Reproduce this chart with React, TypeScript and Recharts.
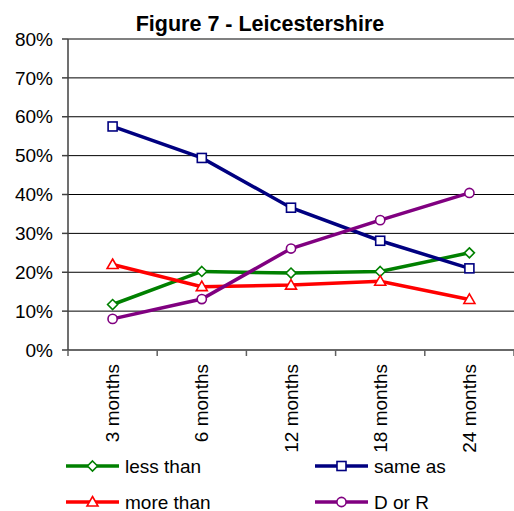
import React from "react";
import { LineChart, Line, XAxis, YAxis, CartesianGrid, Legend, ReferenceLine } from "recharts";

const categories = ["3 months", "6 months", "12 months", "18 months", "24 months"];
const lessThan = [0.117, 0.202, 0.198, 0.202, 0.25];
const sameAs = [0.575, 0.494, 0.366, 0.281, 0.21];
const moreThan = [0.22, 0.163, 0.167, 0.177, 0.13];
const dOrR = [0.08, 0.131, 0.261, 0.334, 0.404];
const yTicks = [0, 0.1, 0.2, 0.3, 0.4, 0.5, 0.6, 0.7, 0.8];

const seriesInfo = [
  { key: "lessThan", name: "less than", color: "#008000", shape: "diamond" },
  { key: "sameAs", name: "same as", color: "#000080", shape: "square" },
  { key: "moreThan", name: "more than", color: "#FF0000", shape: "triangle" },
  { key: "dOrR", name: "D or R", color: "#800080", shape: "circle" },
];

const data = categories.map((c, i) => ({
  cat: c,
  lessThan: lessThan[i],
  sameAs: sameAs[i],
  moreThan: moreThan[i],
  dOrR: dOrR[i],
}));

const W = 514;
const H = 511;
const LEFT = 68;
const PLOT_W = W - LEFT;
const HALF_BAND = PLOT_W / categories.length / 2;
const FONT = "'Liberation Sans', Arial, sans-serif";

function Marker({ cx, cy, color, shape }: any) {
  if (cx == null || cy == null) return null;
  const common = { fill: "#fff", stroke: color, strokeWidth: 1.6 };
  if (shape === "diamond")
    return <polygon points={`${cx},${cy - 5} ${cx + 5},${cy} ${cx},${cy + 5} ${cx - 5},${cy}`} {...common} />;
  if (shape === "square") return <rect x={cx - 4.5} y={cy - 4.5} width={9} height={9} {...common} />;
  if (shape === "triangle")
    return <polygon points={`${cx},${cy - 5.5} ${cx + 5.5},${cy + 4} ${cx - 5.5},${cy + 4}`} {...common} />;
  return <circle cx={cx} cy={cy} r={4.6} {...common} />;
}

const XTick = (props: any) => {
  const { x, y, payload, index, visibleTicksCount, width } = props;
  const n = visibleTicksCount || categories.length;
  const bw = (width || PLOT_W) / n;
  const tickStroke = "#606060";
  return (
    <g>
      <line x1={x - bw / 2} x2={x - bw / 2} y1={y} y2={y + 6} stroke={tickStroke} strokeWidth={1.5} />
      {index === n - 1 && (
        <line x1={x + bw / 2} x2={x + bw / 2} y1={y} y2={y + 6} stroke={tickStroke} strokeWidth={1.5} />
      )}
      <text
        x={x}
        y={y + 14}
        transform={`rotate(-90, ${x}, ${y + 14})`}
        textAnchor="end"
        dominantBaseline="central"
        fontSize={19}
        fontFamily={FONT}
        fill="#000"
      >
        {payload.value}
      </text>
    </g>
  );
};

const LegendContent = () => {
  const cols = [66, 315];
  const rows = [16, 52];
  return (
    <svg width={W} height={61} style={{ display: "block" }}>
      {seriesInfo.map((s, i) => {
        const lx = cols[i % 2];
        const ly = rows[Math.floor(i / 2)];
        return (
          <g key={s.key}>
            <line x1={lx} x2={lx + 53} y1={ly} y2={ly} stroke={s.color} strokeWidth={3.5} />
            <Marker cx={lx + 26.5} cy={ly} color={s.color} shape={s.shape} />
            <text x={lx + 59} y={ly} dominantBaseline="central" fontSize={19} fontFamily={FONT} fill="#000">
              {s.name}
            </text>
          </g>
        );
      })}
    </svg>
  );
};

export default function App() {
  return (
    <div style={{ position: "absolute", left: 0, top: 0, width: W, height: H, background: "#fff" }}>
      <div
        style={{
          position: "absolute",
          left: 0,
          top: 12,
          width: 520,
          textAlign: "center",
          fontFamily: FONT,
          fontWeight: "bold",
          fontSize: 21.5,
          lineHeight: "24px",
          color: "#000",
          zIndex: 2,
        }}
      >
        Figure 7 - Leicestershire
      </div>
      <LineChart width={W} height={H} data={data} margin={{ top: 39, right: 0, bottom: 0, left: 0 }}>
        <CartesianGrid vertical={false} stroke="#000" strokeWidth={1} strokeOpacity={1} />
        <ReferenceLine y={0.8} stroke="#808080" strokeWidth={1.5} />
        <XAxis
          dataKey="cat"
          height={161}
          padding={{ left: HALF_BAND, right: HALF_BAND }}
          axisLine={{ stroke: "#606060", strokeWidth: 1.5 }}
          tickLine={false}
          tickSize={0}
          tickMargin={0}
          interval={0}
          tick={<XTick />}
        />
        <YAxis
          width={LEFT}
          domain={[0, 0.8]}
          ticks={yTicks}
          interval={0}
          tickFormatter={(v: number) => `${Math.round(v * 100)}%`}
          axisLine={{ stroke: "#404040", strokeWidth: 1.5 }}
          tickLine={{ stroke: "#404040", strokeWidth: 1.5 }}
          tickSize={6}
          tickMargin={9}
          tick={{ fontSize: 19, fill: "#000", fontFamily: FONT }}
        />
        <Legend
          layout="vertical"
          align="center"
          verticalAlign="middle"
          wrapperStyle={{ position: "absolute", left: 0, top: 450, width: W, height: 61 }}
          content={<LegendContent />}
        />
        {seriesInfo.map((s) => (
          <Line
            key={s.key}
            dataKey={s.key}
            name={s.name}
            stroke={s.color}
            strokeWidth={3.5}
            isAnimationActive={false}
            dot={(p: any) => <Marker key={`${s.key}-${p.index}`} cx={p.cx} cy={p.cy} color={s.color} shape={s.shape} />}
            activeDot={false}
          />
        ))}
      </LineChart>
    </div>
  );
}
